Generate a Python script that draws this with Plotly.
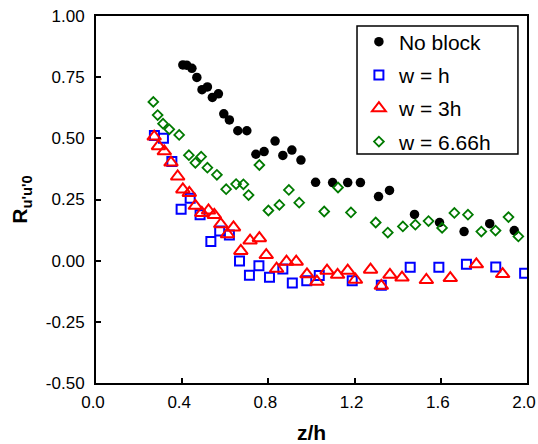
import plotly.graph_objects as go

# Correlation coefficient R_u'u'0 versus normalised height z/h
no_block_z = [0.403, 0.421, 0.445, 0.468, 0.492, 0.517, 0.540, 0.568, 0.593, 0.619,
              0.658, 0.700, 0.742, 0.780, 0.831, 0.867, 0.909, 0.951, 1.019, 1.098,
              1.168, 1.227, 1.311, 1.362, 1.478, 1.594, 1.708, 1.827, 1.941]
no_block_r = [0.800, 0.799, 0.786, 0.749, 0.699, 0.710, 0.667, 0.682, 0.600, 0.575,
              0.531, 0.531, 0.435, 0.446, 0.489, 0.430, 0.452, 0.411, 0.320, 0.319,
              0.319, 0.319, 0.262, 0.287, 0.189, 0.156, 0.119, 0.151, 0.123]

w_h_z = [0.271, 0.313, 0.352, 0.395, 0.437, 0.483, 0.533, 0.574, 0.619, 0.666,
         0.712, 0.756, 0.805, 0.867, 0.911, 0.978, 1.036, 1.189, 1.324, 1.458,
         1.591, 1.719, 1.855, 1.989]
w_h_r = [0.512, 0.500, 0.405, 0.210, 0.255, 0.188, 0.078, 0.121, 0.105, -0.001,
         -0.060, -0.021, -0.068, -0.034, -0.091, -0.082, -0.061, -0.082, -0.100, -0.027,
         -0.027, -0.015, -0.026, -0.051]

w_3h_z = [0.270, 0.290, 0.317, 0.348, 0.379, 0.403, 0.433, 0.461, 0.491, 0.522,
          0.549, 0.579, 0.610, 0.638, 0.672, 0.715, 0.758, 0.790, 0.838, 0.884,
          0.929, 0.979, 1.025, 1.072, 1.121, 1.168, 1.204, 1.274, 1.324, 1.364,
          1.420, 1.533, 1.644, 1.765, 1.887]
w_3h_r = [0.507, 0.468, 0.447, 0.401, 0.344, 0.291, 0.277, 0.224, 0.195, 0.205,
          0.187, 0.149, 0.108, 0.136, 0.040, 0.082, 0.092, 0.023, -0.033, -0.004,
          -0.004, -0.056, -0.086, -0.041, -0.058, -0.041, -0.078, -0.037, -0.103, -0.058,
          -0.069, -0.079, -0.071, -0.015, -0.055]

w_666h_z = [0.266, 0.286, 0.311, 0.340, 0.386, 0.431, 0.461, 0.488, 0.517, 0.561,
            0.604, 0.650, 0.684, 0.708, 0.758, 0.800, 0.851, 0.895, 0.943, 1.059,
            1.123, 1.183, 1.298, 1.354, 1.424, 1.482, 1.543, 1.606, 1.663, 1.726,
            1.788, 1.854, 1.914, 1.960]
w_666h_r = [0.649, 0.595, 0.560, 0.537, 0.514, 0.431, 0.400, 0.425, 0.380, 0.351,
            0.292, 0.313, 0.312, 0.268, 0.391, 0.205, 0.228, 0.289, 0.237, 0.201,
            0.299, 0.197, 0.156, 0.115, 0.140, 0.147, 0.162, 0.134, 0.195, 0.188,
            0.119, 0.123, 0.178, 0.099]

x_ticks = [0.0, 0.4, 0.8, 1.2, 1.6, 2.0]
y_ticks = [-0.50, -0.25, 0.00, 0.25, 0.50, 0.75, 1.00]

FONT = "Arial, Liberation Sans, sans-serif"

fig = go.Figure()
fig.add_trace(go.Scatter(
    x=no_block_z, y=no_block_r, mode="markers", name="No block", legendgroup="a",
    marker=dict(symbol="circle", size=9.5, color="black", line=dict(width=0)),
))
fig.add_trace(go.Scatter(
    x=w_h_z, y=w_h_r, mode="markers", name="w = h", legendgroup="b",
    marker=dict(symbol="square-open", size=9, color="#0000ff", line=dict(width=2, color="#0000ff")),
))
fig.add_trace(go.Scatter(
    x=w_3h_z, y=w_3h_r, mode="markers", name="w = 3h", legendgroup="c",
    marker=dict(symbol="triangle-up-open", size=12, color="#ff0000", line=dict(width=2, color="#ff0000")),
))
fig.add_trace(go.Scatter(
    x=w_666h_z, y=w_666h_r, mode="markers", name="w = 6.66h", legendgroup="d",
    marker=dict(symbol="diamond-open", size=7.5, color="#007a00", line=dict(width=1.8, color="#007a00")),
))

axis_common = dict(
    showline=True, linecolor="black", linewidth=2, mirror=True,
    ticks="inside", ticklen=5, tickwidth=2, tickcolor="black",
    showgrid=False, zeroline=False, automargin=False,
    ticklabeloverflow="allow",
    tickfont=dict(family=FONT, size=17, color="black"),
)

fig.update_xaxes(
    range=[0, 2.0], tickvals=x_ticks, ticktext=[f"{v:.1f}" for v in x_ticks],
    ticklabelstandoff=3, ticklabelshift=-3,
    title=dict(text="<b>z/h</b>", font=dict(family=FONT, size=21, color="black"), standoff=15),
    **axis_common,
)
fig.update_yaxes(
    range=[-0.5, 1.0], tickvals=y_ticks, ticktext=[f"{v:.2f}" for v in y_ticks],
    ticklabelstandoff=6,
    title=dict(
        text="<b>R<sub>u'u'0</sub></b>",
        font=dict(family=FONT, size=21, color="black"), standoff=12,
    ),
    **axis_common,
)

# framed box behind the legend entries
fig.add_shape(
    type="rect", xref="paper", yref="paper",
    x0=0.6056, x1=0.979, y0=0.624, y1=0.9728,
    line=dict(color="black", width=1.5), fillcolor="white", layer="below",
)

fig.update_layout(
    width=538, height=444,
    margin=dict(l=96, r=11, t=16, b=61),
    paper_bgcolor="white", plot_bgcolor="white",
    font=dict(family=FONT, color="black"),
    legend=dict(
        x=0.610, y=0.985, xanchor="left", yanchor="top",
        bgcolor="rgba(0,0,0,0)", borderwidth=0,
        font=dict(family=FONT, size=21, color="black"),
        tracegroupgap=3,
    ),
)

fig.write_html("out.html")
